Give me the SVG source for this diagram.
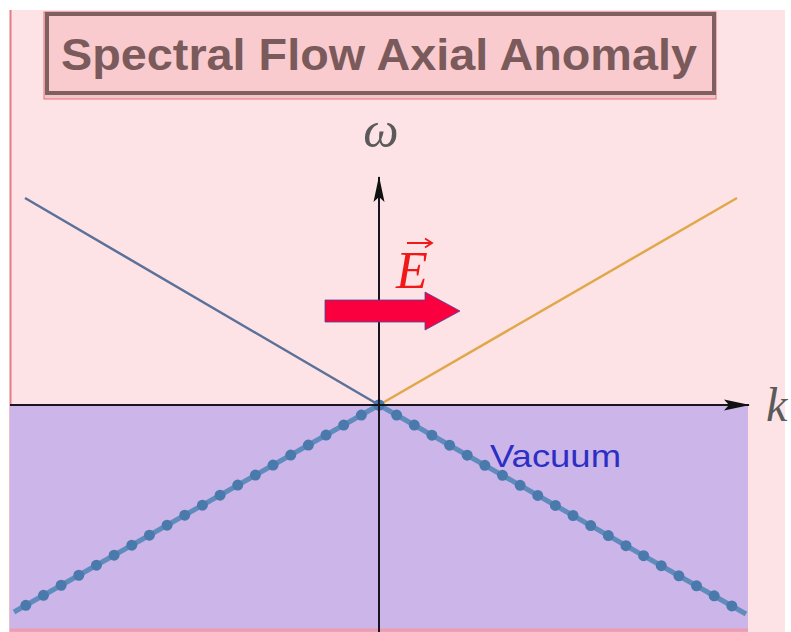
<svg xmlns="http://www.w3.org/2000/svg" width="791" height="632" viewBox="0 0 791 632">
<defs>
<style>
.axis{stroke:#1a1420;stroke-width:2;fill:none}
.lab{font-family:"Liberation Serif",serif;font-style:italic;fill:#5a5a5a}
.dots{stroke:#4a7aab;stroke-width:11;stroke-dasharray:0 20.3;stroke-linecap:round;fill:none}
.dline{stroke:#5f8cbc;stroke-width:5;fill:none}
</style>
<marker id="ah" viewBox="0 0 26 12" refX="25" refY="6" markerWidth="26" markerHeight="12" markerUnits="userSpaceOnUse" orient="auto">
<path d="M0,0.5 L26,6 L0,11.5 L5,6 Z" fill="#111"/>
</marker>
</defs>
<rect width="791" height="632" fill="#ffffff"/>
<rect x="10" y="10" width="775" height="622" fill="#fde3e5"/>
<line x1="10.5" y1="10" x2="10.5" y2="632" stroke="#e57d85" stroke-width="2"/>
<rect x="10" y="405" width="738" height="227" fill="#ccb5e8"/>
<line x1="10" y1="630" x2="748" y2="630" stroke="#f29aaa" stroke-width="3"/>
<g id="title">
<rect x="44" y="12" width="672" height="87" fill="#f5c4c8" stroke="#e8727a" stroke-width="1"/>
<rect x="47" y="14" width="667" height="79" fill="#f9cbce" stroke="#7f6060" stroke-width="4"/>
<text x="61" y="70" textLength="636" lengthAdjust="spacingAndGlyphs" font-family="Liberation Sans, Arial, sans-serif" font-weight="bold" font-size="45" fill="#7b5a5c">Spectral Flow Axial Anomaly</text>
</g>
<g id="lines">
<line x1="25" y1="198" x2="379" y2="405" stroke="#5c7199" stroke-width="2.5"/>
<line x1="379" y1="405" x2="737" y2="198" stroke="#e0a84a" stroke-width="2.5"/>
<line class="dline" x1="379" y1="405" x2="14" y2="612"/>
<line class="dline" x1="379" y1="405" x2="746" y2="614"/>
<path class="dots" d="M379,405 L14,612"/>
<path class="dots" d="M379,405 L746,614"/>
</g>
<g id="axes">
<line class="axis" x1="379" y1="632" x2="379" y2="177" marker-end="url(#ah)"/>
<line class="axis" x1="10" y1="405" x2="749" y2="405" marker-end="url(#ah)"/>
<text class="lab" x="381" y="147" font-size="50" text-anchor="middle">ω</text>
<text class="lab" x="766" y="421" font-size="48">k</text>
</g>
<g id="efield">
<path d="M325,300 L425,300 L425,292 L460,311 L425,330 L425,322 L325,322 Z" fill="#fa003e" stroke="#3b4fa0" stroke-width="0.8"/>
<text x="412" y="288" text-anchor="middle" font-family="Liberation Serif, serif" font-style="italic" font-size="52" fill="#f01818">E</text>
<path d="M407,243 L431,243 M425,238.5 L432,243 L425,247.5" stroke="#f01818" stroke-width="1.8" fill="none"/>
</g>
<g id="vacuum">
<text x="490" y="467" textLength="131" lengthAdjust="spacingAndGlyphs" font-family="Liberation Sans, Arial, sans-serif" font-size="32" fill="#2c2fc4">Vacuum</text>
</g>
</svg>
